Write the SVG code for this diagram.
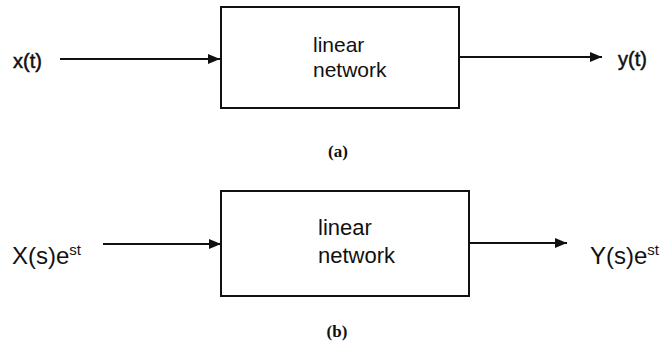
<svg xmlns="http://www.w3.org/2000/svg" width="663" height="354" viewBox="0 0 663 354">
<defs>
<style>
.box{fill:#fff;stroke:#111;stroke-width:2}
.wire{stroke:#111;stroke-width:2;fill:none}
.lbl{font-family:"Liberation Sans",Arial,sans-serif;fill:#111}
.cap{font-family:"Liberation Serif","Times New Roman",serif;font-weight:bold;fill:#111;font-size:17px}
</style>
<marker id="ah" viewBox="0 0 12 10" refX="12" refY="5" markerWidth="12" markerHeight="10" markerUnits="userSpaceOnUse" orient="auto">
<path d="M0,0 L12,5 L0,10 z" fill="#111"/>
</marker>
</defs>
<rect width="663" height="354" fill="#fff"/>
<g id="connectors">
<line class="wire" x1="60" y1="59" x2="220" y2="59" marker-end="url(#ah)"/>
<line class="wire" x1="459" y1="57" x2="602" y2="57" marker-end="url(#ah)"/>
<line class="wire" x1="103" y1="244" x2="221" y2="244" marker-end="url(#ah)"/>
<line class="wire" x1="469" y1="243" x2="567" y2="243" marker-end="url(#ah)"/>
</g>
<g id="net-a">
<rect class="box" x="221" y="7" width="238" height="101"/>
<text class="lbl" x="313" y="52" font-size="21">linear</text>
<text class="lbl" x="313" y="77" font-size="21">network</text>
</g>
<g id="net-b">
<rect class="box" x="221" y="191" width="248" height="105"/>
<text class="lbl" x="318" y="235" font-size="22">linear</text>
<text class="lbl" x="318" y="263" font-size="22">network</text>
</g>
<g id="in-a"><text class="lbl" x="13" y="68" font-size="20" stroke="#111" stroke-width="0.5">x(t)</text></g>
<g id="out-a"><text class="lbl" x="618" y="66" font-size="20" stroke="#111" stroke-width="0.5">y(t)</text></g>
<g id="in-b"><text class="lbl" x="12" y="264" font-size="24">X(s)e<tspan font-size="15" dy="-9">st</tspan></text></g>
<g id="out-b"><text class="lbl" x="590" y="264" font-size="24">Y(s)e<tspan font-size="15" dy="-9">st</tspan></text></g>
<g id="cap-a"><text class="cap" x="338" y="157" text-anchor="middle">(a)</text></g>
<g id="cap-b"><text class="cap" x="337" y="337" text-anchor="middle">(b)</text></g>
</svg>
